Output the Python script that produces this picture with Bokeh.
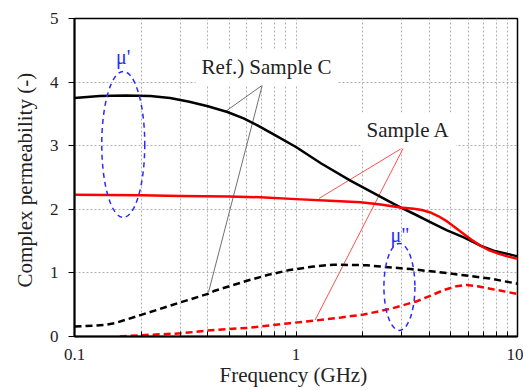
from bokeh.plotting import figure
from bokeh.models import Label, FixedTicker
from bokeh.embed import file_html
from bokeh.resources import INLINE

# --- data (frequency in GHz) ---
c_re_f = [0.1, 0.13, 0.17, 0.22, 0.27, 0.33, 0.4, 0.49, 0.58, 0.67, 0.8, 1.0, 1.3, 1.76, 2.2, 2.58, 2.96, 3.4, 4.04, 4.81, 5.72, 6.8, 7.8, 10]
c_re_v = [3.75, 3.78, 3.79, 3.78, 3.75, 3.69, 3.62, 3.53, 3.43, 3.32, 3.17, 2.98, 2.72, 2.45, 2.27, 2.14, 2.03, 1.93, 1.80, 1.67, 1.56, 1.43, 1.35, 1.26]

a_re_f = [0.1, 0.2, 0.3, 0.5, 0.69, 1.0, 1.5, 1.96, 2.41, 2.96, 3.4, 3.7, 4.04, 4.4, 4.81, 5.25, 5.72, 6.2, 6.8, 7.4, 8.1, 9.0, 10]
a_re_v = [2.23, 2.22, 2.21, 2.20, 2.19, 2.16, 2.13, 2.11, 2.075, 2.03, 2.01, 1.99, 1.95, 1.89, 1.81, 1.71, 1.61, 1.52, 1.43, 1.36, 1.31, 1.26, 1.22]

c_im_f = [0.1, 0.137, 0.154, 0.2, 0.303, 0.4, 0.43, 0.606, 0.75, 0.92, 1.2, 1.48, 2.09, 2.41, 3.3, 4.98, 7.54, 10]
c_im_v = [0.157, 0.18, 0.215, 0.34, 0.54, 0.67, 0.72, 0.88, 0.97, 1.04, 1.10, 1.13, 1.12, 1.10, 1.06, 0.99, 0.91, 0.83]

a_im_f = [0.16, 0.2, 0.303, 0.4, 0.606, 0.94, 1.22, 1.6, 2.02, 2.67, 3.52, 4.1, 4.65, 5.3, 5.9, 6.6, 7.54, 10]
a_im_v = [0.0, 0.02, 0.05, 0.094, 0.136, 0.21, 0.25, 0.30, 0.345, 0.435, 0.555, 0.65, 0.73, 0.79, 0.81, 0.79, 0.75, 0.67]

x_major = [0.1, 1, 10]
x_minor = [0.2, 0.3, 0.4, 0.5, 0.6, 0.7, 0.8, 0.9, 2, 3, 4, 5, 6, 7, 8, 9]
y_ticks = [0, 1, 2, 3, 4, 5]

# annotation anchors (data units)
label_c = ("Ref.) Sample C", 0.352, 4.23)
label_a = ("Sample A", 1.955, 3.24)
lead_c_x = [[0.704, 0.481], [0.704, 0.403]]
lead_c_y = [[3.95, 3.54], [3.95, 0.70]]
lead_a_x = [[3.07, 1.27], [3.07, 1.22]]
lead_a_y = [[2.98, 2.17], [2.98, 0.26]]
mu_re = ("\u03bc'", 0.166, 4.40)
mu_im = ('\u03bc"', 2.95, 1.60)
ell_re = (0.166, 3.02, 43, 146)
ell_im = (2.93, 0.78, 31, 87)

FONT = "Liberation Serif"

p = figure(width=523, height=390, x_axis_type="log", x_range=(0.1, 10), y_range=(0, 5),
           output_backend="svg", toolbar_location=None,
           min_border_left=74, min_border_right=6, min_border_top=18, min_border_bottom=54)
p.background_fill_color = "white"
p.border_fill_color = "white"
p.outline_line_color = "black"
p.outline_line_width = 1.5

xt = FixedTicker(ticks=x_major, minor_ticks=x_minor)
p.xaxis.ticker = xt
p.xgrid.ticker = xt
p.xgrid.grid_line_color = "#b0b0b0"
p.xgrid.grid_line_dash = "2 2"
p.xgrid.minor_grid_line_color = "#b0b0b0"
p.xgrid.minor_grid_line_dash = "2 2"
p.ygrid.grid_line_color = "#b0b0b0"
p.ygrid.grid_line_dash = "2 2"
p.yaxis.ticker = FixedTicker(ticks=y_ticks)

for ax in (p.xaxis[0], p.yaxis[0]):
    ax.axis_line_color = "black"
    ax.axis_line_width = 2
    ax.major_label_text_font = FONT
    ax.major_label_text_font_size = "17px"
    ax.major_label_text_color = "#222222"
    ax.axis_label_text_font = FONT
    ax.axis_label_text_font_size = "21px"
    ax.axis_label_text_font_style = "normal"
    ax.axis_label_text_color = "#222222"
    ax.major_tick_line_color = "black"
    ax.minor_tick_line_color = "black"

p.xaxis.axis_label = "Frequency  (GHz)"
p.xaxis.major_tick_in = 5
p.xaxis.major_tick_out = 0
p.xaxis.minor_tick_in = 5
p.xaxis.minor_tick_out = 0
p.xaxis.major_label_standoff = 12
p.xaxis.axis_label_standoff = 0
p.xaxis.major_label_overrides = {0.1: "0.1", 1: "1", 10: "10"}

p.yaxis.axis_label = "Complex  permeability (-)"
p.yaxis.major_tick_in = 0
p.yaxis.major_tick_out = 6
p.yaxis.minor_tick_line_color = None
p.yaxis.major_label_standoff = 10
p.yaxis.axis_label_standoff = 10

# leader lines
p.multi_line(lead_c_x, lead_c_y, line_color="#707070", line_width=1)
p.multi_line(lead_a_x, lead_a_y, line_color="#ff5050", line_width=1)

# curves
p.line(c_re_f, c_re_v, line_color="black", line_width=2.5, line_join="round")
p.line(a_re_f, a_re_v, line_color="#ff0000", line_width=2.5, line_join="round")
p.line(c_im_f, c_im_v, line_color="black", line_width=2.5, line_dash="7 4")
p.line(a_im_f, a_im_v, line_color="#ff0000", line_width=2.5, line_dash="7 4")

# ellipses
for (xc, yc, w, h) in (ell_re, ell_im):
    p.ellipse(x=[xc], y=[yc], width=[w], height=[h], width_units="screen", height_units="screen",
              fill_alpha=0, line_color="#2a2aff", line_width=1.5, line_dash="5 4")

# labels
for (txt, xx, yy) in (label_c, label_a):
    p.add_layout(Label(x=xx, y=yy, text=txt, text_font=FONT, text_font_size="21px",
                       text_color="#222222", text_baseline="middle", text_align="left",
                       background_fill_color="white", padding=6))
for (txt, xx, yy) in (mu_re, mu_im):
    p.add_layout(Label(x=xx, y=yy, text=txt, text_font=FONT, text_font_size="20px",
                       text_color="#2a2aff", text_baseline="middle", text_align="center"))

open("out.html", "w").write(file_html(p, INLINE))
